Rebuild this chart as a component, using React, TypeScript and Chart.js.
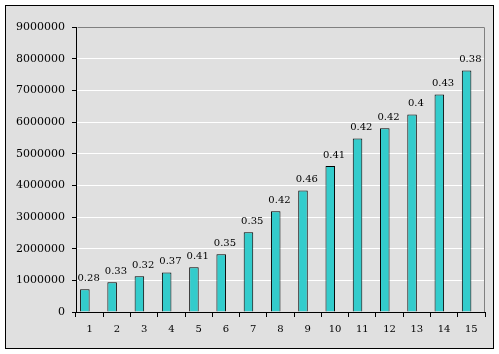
import React, { useEffect, useRef } from "react";
import { Chart, registerables } from "chart.js";

Chart.register(...registerables);

const categories = ["1", "2", "3", "4", "5", "6", "7", "8", "9", "10", "11", "12", "13", "14", "15"];
const values = [720000, 940000, 1130000, 1250000, 1410000, 1820000, 2520000, 3180000, 3840000, 4610000, 5480000, 5800000, 6240000, 6870000, 7630000];
const ratioLabels = ["0.28", "0.33", "0.32", "0.37", "0.41", "0.35", "0.35", "0.42", "0.46", "0.41", "0.42", "0.42", "0.4", "0.43", "0.38"];
const yMax = 9000000;
const yStep = 1000000;

const FONT = "'DejaVu Serif', serif";

export default function App() {
  const ref = useRef<HTMLCanvasElement | null>(null);
  useEffect(() => {
    const canvas = ref.current;
    if (!canvas) return;
    const bgPlugin = {
      id: "bg",
      beforeDraw(chart: any) {
        const ctx = chart.ctx;
        ctx.save();
        ctx.fillStyle = "#ffffff";
        ctx.fillRect(0, 0, chart.width, chart.height);
        ctx.fillStyle = "#e0e0e0";
        ctx.fillRect(5, 5, 489, 344);
        ctx.strokeStyle = "#000000";
        ctx.lineWidth = 1;
        ctx.strokeRect(5.5, 5.5, 488, 343);
        ctx.restore();
      },
      afterDraw(chart: any) {
        const { ctx, chartArea } = chart;
        ctx.save();
        ctx.strokeStyle = "#808080";
        ctx.lineWidth = 1;
        ctx.beginPath();
        const l = Math.round(chartArea.left) + 0.5;
        const t = Math.round(chartArea.top) + 0.5;
        const r = Math.round(chartArea.right) - 0.5;
        const b = Math.round(chartArea.bottom);
        ctx.moveTo(l + 1, t);
        ctx.lineTo(r, t);
        ctx.lineTo(r, b);
        ctx.stroke();
        ctx.restore();
      },
    };
    const labelPlugin = {
      id: "vals",
      afterDatasetsDraw(chart: any) {
        const ctx = chart.ctx;
        const meta = chart.getDatasetMeta(0);
        const xs = chart.scales.x;
        ctx.save();
        ctx.font = `10px ${FONT}`;
        ctx.fillStyle = "#000";
        ctx.textAlign = "center";
        ctx.textBaseline = "bottom";
        meta.data.forEach((bar: any, i: number) => {
          ctx.fillText(ratioLabels[i], xs.getPixelForValue(i) - 1, bar.y - 6);
        });
        ctx.restore();
      },
    };
    const chart = new Chart(canvas, {
      type: "bar",
      data: {
        labels: categories,
        datasets: [
          {
            data: values,
            backgroundColor: "#33cccc",
            borderColor: "#000000",
            borderWidth: 1,
            barPercentage: 1,
            categoryPercentage: 0.7,
          },
          {
            data: categories.map(() => null),
            backgroundColor: "transparent",
            borderWidth: 0,
            barPercentage: 1,
            categoryPercentage: 0.7,
          },
        ],
      },
      options: {
        animation: false,
        responsive: false,
        maintainAspectRatio: false,
        layout: { padding: { left: 0, top: 27, right: 14, bottom: 0 } },
        plugins: { legend: { display: false }, tooltip: { enabled: false } },
        scales: {
          x: {
            grid: {
              offset: true,
              drawOnChartArea: false,
              tickLength: 5,
              tickColor: "#000",
              color: "#000",
            },
            border: { color: "#000", width: 1 },
            ticks: { color: "#000", font: { family: FONT, size: 10 }, padding: 6, maxRotation: 0 },
            afterFit(scale: any) {
              scale.height = 42;
            },
          },
          y: {
            min: 0,
            max: yMax,
            grid: { color: "#ffffff", tickColor: "#000", tickLength: 4 },
            border: { color: "#000", width: 1 },
            ticks: { stepSize: yStep, color: "#000", font: { family: FONT, size: 11 }, padding: 7, callback: (v: any) => String(v) },
            afterFit(scale: any) {
              scale.width = 76;
            },
          },
        },
      },
      plugins: [bgPlugin, labelPlugin],
    });
    return () => chart.destroy();
  }, []);
  return (
    <div style={{ position: "fixed", left: 0, top: 0, width: 499, height: 354 }}>
      <canvas ref={ref} width={499} height={354} style={{ display: "block", width: 499, height: 354 }} />
    </div>
  );
}
